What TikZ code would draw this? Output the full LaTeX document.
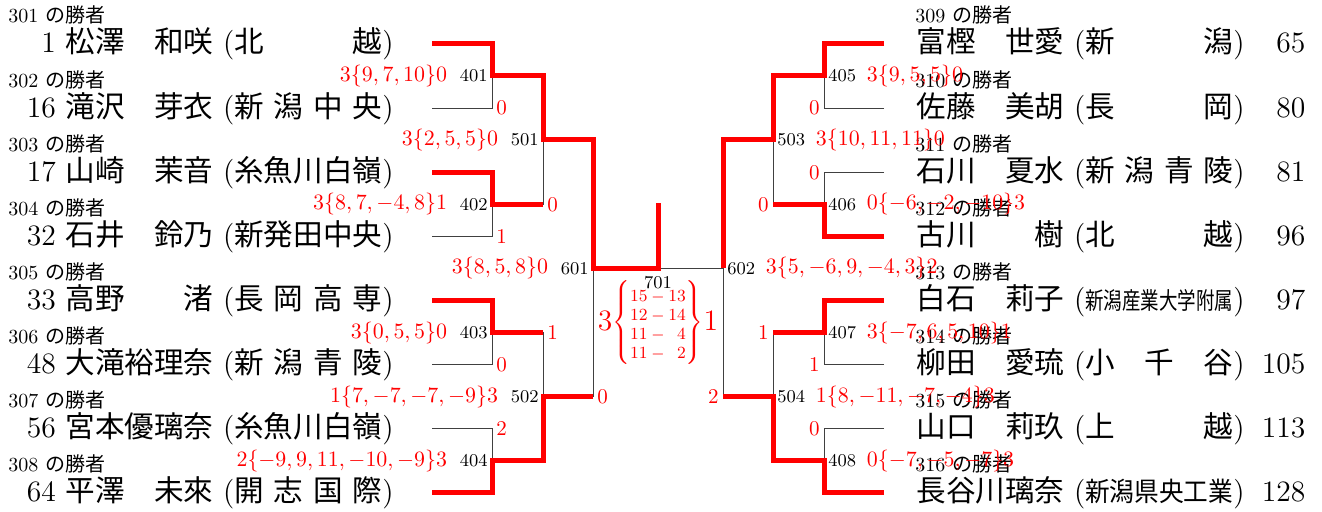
\documentclass[tikz,border=0pt]{standalone}
\usepackage{fontspec}
\usepackage{graphicx}
\newfontfamily\jp{Noto Sans CJK JP}
\usetikzlibrary{positioning}

\definecolor{winred}{RGB}{255,0,0}

% number, name, school (left and right layouts)
\newcommand{\lplayer}[3]{\makebox[1.6em][r]{#1}\ {\jp #2}\ (\makebox[5em][s]{\jp #3})}
\newcommand{\rplayer}[3]{{\jp #2}\ (\makebox[5em][s]{\jp #3})\makebox[2.05em][r]{#1}}

\tikzset{
  player/.style={inner sep=0pt, font=\fontsize{14.8}{16}\selectfont},
  lab/.style={inner sep=0pt, font=\fontsize{10}{12}\selectfont},
  num/.style={inner sep=0pt, font=\fontsize{9}{10}\selectfont},
  score/.style={inner sep=0pt, text=winred, font=\fontsize{11}{12}\selectfont},
  cnt/.style={inner sep=0pt, text=winred, font=\fontsize{10.5}{12}\selectfont},
  final/.style={inner sep=0pt, text=winred, font=\fontsize{14.8}{16}\selectfont},
  win/.style={draw=winred, line width=2.5pt},
  lose/.style={draw=black!75, line width=0.5pt}
}

\begin{document}
\begin{tikzpicture}[x=0.5pt, y=-0.5pt]
\useasboundingbox (0,0) rectangle (1322,512);

% players, left
\foreach \i/\n/\nm/\sc/\y in {
  1/1/松澤　和咲/北\hfill 越/53,
  2/16/滝沢　芽衣/新\hfill 潟\hfill 中\hfill 央/117.1,
  3/17/山崎　茉音/糸魚川白嶺/181.3,
  4/32/石井　鈴乃/新発田中央/245.4,
  5/33/高野　　渚/長\hfill 岡\hfill 高\hfill 専/309.6,
  6/48/大滝裕理奈/新\hfill 潟\hfill 青\hfill 陵/373.7,
  7/56/宮本優璃奈/糸魚川白嶺/437.9,
  8/64/平澤　未來/開\hfill 志\hfill 国\hfill 際/502}{
  \pgfmathtruncatemacro\w{300+\i}
  \node[lab, anchor=base west] (w\i) at (8,\y-30) {\w\ {\jp の勝者}};
  \node[player, anchor=base west] (p\i) at (8,\y) {\lplayer{\n}{\nm}{\sc}};
}
% players, right
\foreach \i/\n/\nm/\sc/\y in {
  9/65/富樫　世愛/新\hfill 潟/53,
  10/80/佐藤　美胡/長\hfill 岡/117.1,
  11/81/石川　夏水/新\hfill 潟\hfill 青\hfill 陵/181.3,
  12/96/古川　　樹/北\hfill 越/245.4,
  13/97/白石　莉子/\scalebox{0.625}[0.8]{新潟産業大学附属}/309.6,
  14/105/柳田　愛琉/小\hfill 千\hfill 谷/373.7,
  15/113/山口　莉玖/上\hfill 越/437.9,
  16/128/長谷川璃奈/\scalebox{0.833}[0.9]{新潟県央工業}/502}{
  \pgfmathtruncatemacro\w{300+\i}
  \node[lab, anchor=base west] (w\i) at (915,\y-30) {\w\ {\jp の勝者}};
  \node[player, anchor=base west] (p\i) at (916,\y) {\rplayer{\n}{\nm}{\sc}};
}

% bracket entries
\foreach \i/\y in {1/44,2/108.1,3/172.3,4/236.4,5/300.6,6/364.7,7/428.9,8/493}{
  \coordinate (e\i) at (432,\y);
  \pgfmathtruncatemacro\j{\i+8}
  \coordinate (e\j) at (884,\y);
}
% match points
\coordinate (m401) at (492,76);
\coordinate (m402) at (492,204.3);
\coordinate (m403) at (492,332.6);
\coordinate (m404) at (492,461);
\coordinate (m501) at (543,140);
\coordinate (m502) at (543,397);
\coordinate (m601) at (593,268.5);
\coordinate (m701) at (658,268.5);
\coordinate (champ) at (658,203);
\coordinate (m602) at (723,268.5);
\coordinate (m503) at (773,140);
\coordinate (m504) at (773,397);
\coordinate (m405) at (824,76);
\coordinate (m406) at (824,204.3);
\coordinate (m407) at (824,332.6);
\coordinate (m408) at (824,461);

% losing lines
\draw[lose] (e2) -| (m401);
\draw[lose] (e4) -| (m402);
\draw[lose] (e6) -| (m403);
\draw[lose] (e7) -| (m404);
\draw[lose] (m402) -| (m501);
\draw[lose] (m403) -| (m502);
\draw[lose] (m502) -| (m601);
\draw[lose] (m601) -- (m602);
\draw[lose] (e10) -| (m405);
\draw[lose] (e11) -| (m406);
\draw[lose] (e14) -| (m407);
\draw[lose] (e15) -| (m408);
\draw[lose] (m406) -| (m503);
\draw[lose] (m407) -| (m504);
\draw[lose] (m504) -| (m602);

% winning lines
\draw[win] (e1) -| (m401) -| (m501) -| (m601) -- (m701) -- (champ);
\draw[win] (e3) -| (m402) -- (m402 -| m501);
\draw[win] (e5) -| (m403) -- (m403 -| m502);
\draw[win] (e8) -| (m404) -| (m502) -- (m502 -| m601);
\draw[win] (e9) -| (m405) -| (m503) -| (m602);
\draw[win] (e12) -| (m406) -- (m406 -| m503);
\draw[win] (e13) -| (m407) -- (m407 -| m504);
\draw[win] (e16) -| (m408) -| (m504) -- (m504 -| m602);

% match numbers and scores, left
\node[num, anchor=east, xshift=-2pt] (n401) at (m401) {401};
\node[score, left=6pt of n401] (s401) {$3\{9,7,10\}0$};
\node[num, anchor=east, xshift=-2pt] (n402) at (m402) {402};
\node[score, left=6pt of n402] (s402) {$3\{8,7,-4,8\}1$};
\node[num, anchor=east, xshift=-2pt] (n403) at (m403) {403};
\node[score, left=6pt of n403] (s403) {$3\{0,5,5\}0$};
\node[num, anchor=east, xshift=-2pt] (n404) at (m404) {404};
\node[score, left=6pt of n404] (s404) {$2\{-9,9,11,-10,-9\}3$};
\node[num, anchor=east, xshift=-2pt] (n501) at (m501) {501};
\node[score, left=6pt of n501] (s501) {$3\{2,5,5\}0$};
\node[num, anchor=east, xshift=-2pt] (n502) at (m502) {502};
\node[score, left=6pt of n502] (s502) {$1\{7,-7,-7,-9\}3$};
\node[num, anchor=east, xshift=-2pt] (n601) at (m601) {601};
\node[score, left=6pt of n601] (s601) {$3\{8,5,8\}0$};

% match numbers and scores, right
\node[num, anchor=west, xshift=2pt] (n405) at (m405) {405};
\node[score, right=5pt of n405] (s405) {$3\{9,5,5\}0$};
\node[num, anchor=west, xshift=2pt] (n406) at (m406) {406};
\node[score, right=5pt of n406] (s406) {$0\{-6,-2,-10\}3$};
\node[num, anchor=west, xshift=2pt] (n407) at (m407) {407};
\node[score, right=5pt of n407] (s407) {$3\{-7,6,5,10\}1$};
\node[num, anchor=west, xshift=2pt] (n408) at (m408) {408};
\node[score, right=5pt of n408] (s408) {$0\{-7,-5,-7\}3$};
\node[num, anchor=west, xshift=2pt] (n503) at (m503) {503};
\node[score, right=5pt of n503] (s503) {$3\{10,11,11\}0$};
\node[num, anchor=west, xshift=2pt] (n504) at (m504) {504};
\node[score, right=5pt of n504] (s504) {$1\{8,-11,-7,-4\}3$};
\node[num, anchor=west, xshift=2pt] (n602) at (m602) {602};
\node[score, right=5pt of n602] (s602) {$3\{5,-6,9,-4,3\}2$};

% games won by the loser
\node[cnt, anchor=west, xshift=2pt] (c401) at (m401 |- e2) {0};
\node[cnt, anchor=west, xshift=2pt] (c402) at (m402 |- e4) {1};
\node[cnt, anchor=west, xshift=2pt] (c403) at (m403 |- e6) {0};
\node[cnt, anchor=west, xshift=2pt] (c404) at (m404 |- e7) {2};
\node[cnt, anchor=west, xshift=2pt] (c501) at (m501 |- m402) {0};
\node[cnt, anchor=west, xshift=2pt] (c502) at (m502 |- m403) {1};
\node[cnt, anchor=west, xshift=2pt] (c601) at (m601 |- m502) {0};
\node[cnt, anchor=east, xshift=-2pt] (c405) at (m405 |- e10) {0};
\node[cnt, anchor=east, xshift=-2pt] (c406) at (m406 |- e11) {0};
\node[cnt, anchor=east, xshift=-2pt] (c407) at (m407 |- e14) {1};
\node[cnt, anchor=east, xshift=-2pt] (c408) at (m408 |- e15) {0};
\node[cnt, anchor=east, xshift=-2pt] (c503) at (m503 |- m406) {0};
\node[cnt, anchor=east, xshift=-2pt] (c504) at (m504 |- m407) {1};
\node[cnt, anchor=east, xshift=-2pt] (c602) at (m602 |- m504) {2};

% final
\node[num, anchor=north] (n701) at (658,276) {701};
\node[final] (f701) at (658,323) {3$\left\{\hbox{\fontsize{8.5}{9.5}\selectfont\begin{tabular}{@{}r@{${}-{}$}r@{}}15&13\\12&14\\11&4\\11&2\end{tabular}}\right\}$1};
\end{tikzpicture}
\end{document}
